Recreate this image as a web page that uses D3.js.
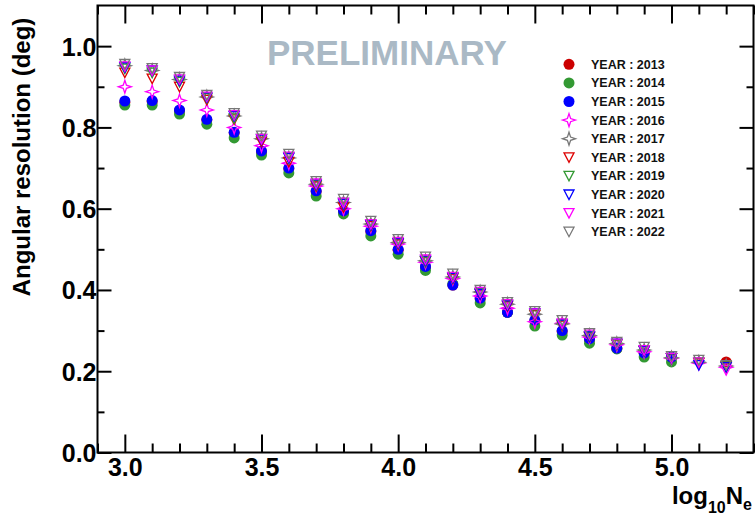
<!DOCTYPE html>
<html>
<head>
<meta charset="utf-8">
<script src="https://cdn.jsdelivr.net/npm/d3@7"></script>
<style>
  body { margin: 0; background: #fff; }
  svg { display: block; }
  text { font-family: "Liberation Sans", Arial, Helvetica, sans-serif; font-weight: bold; }
</style>
</head>
<body>
<div id="canvas"></div>
<script>
// log10(Ne) bins
const logNe = [3.0, 3.1, 3.2, 3.3, 3.4, 3.5, 3.6, 3.7, 3.8, 3.9, 4.0, 4.1, 4.2, 4.3, 4.4, 4.5, 4.6, 4.7, 4.8, 4.9, 5.0, 5.1, 5.2];

// angular resolution (deg) per year
const res2013 = [0.862, 0.864, 0.841, 0.818, 0.786, 0.740, 0.698, 0.642, 0.593, 0.544, 0.498, 0.456, 0.412, 0.378, 0.345, 0.324, 0.298, 0.278, 0.256, 0.244, 0.233, null, 0.223];
const res2014 = [0.855, 0.855, 0.833, 0.808, 0.774, 0.732, 0.688, 0.631, 0.587, 0.533, 0.488, 0.448, 0.415, 0.368, 0.345, 0.311, 0.289, 0.269, 0.255, 0.235, 0.223, null, null];
const res2015 = [0.865, 0.866, 0.843, 0.820, 0.788, 0.742, 0.700, 0.644, 0.595, 0.546, 0.500, 0.458, 0.412, 0.380, 0.345, 0.326, 0.300, 0.280, 0.257, 0.245, 0.235, null, null];
const res2016 = [0.900, 0.888, 0.866, 0.843, 0.800, 0.755, 0.712, 0.656, 0.600, 0.557, 0.513, 0.468, 0.428, 0.385, 0.355, 0.322, 0.318, 0.284, 0.265, 0.248, 0.232, 0.220, 0.210];
const res2017 = [0.952, 0.940, 0.918, 0.875, 0.828, 0.772, 0.725, 0.660, 0.615, 0.562, 0.517, 0.472, 0.432, 0.395, 0.365, 0.340, 0.316, 0.288, 0.268, 0.252, 0.233, 0.222, 0.213];
const res2018 = [0.935, 0.920, 0.900, 0.868, 0.820, 0.765, 0.715, 0.655, 0.603, 0.558, 0.512, 0.470, 0.428, 0.390, 0.360, 0.338, 0.312, 0.284, 0.266, 0.250, 0.232, 0.220, 0.212];
const res2019 = [0.945, 0.935, 0.912, 0.872, 0.822, 0.772, 0.726, 0.658, 0.614, 0.560, 0.515, 0.470, 0.430, 0.392, 0.363, 0.340, 0.314, 0.285, 0.266, 0.250, 0.232, 0.222, 0.212];
const res2020 = [0.948, 0.940, 0.915, 0.874, 0.828, 0.770, 0.725, 0.660, 0.612, 0.560, 0.515, 0.472, 0.430, 0.390, 0.362, 0.343, 0.315, 0.286, 0.268, 0.250, 0.232, 0.215, 0.210];
const res2021 = [0.950, 0.940, 0.918, 0.876, 0.830, 0.772, 0.728, 0.662, 0.615, 0.562, 0.518, 0.475, 0.432, 0.395, 0.365, 0.342, 0.318, 0.290, 0.268, 0.252, 0.233, 0.222, 0.203];
const res2022 = [0.956, 0.946, 0.924, 0.880, 0.835, 0.780, 0.735, 0.668, 0.624, 0.570, 0.525, 0.482, 0.440, 0.400, 0.370, 0.348, 0.326, 0.294, 0.272, 0.260, 0.237, 0.228, 0.215];

const years = ["2013", "2014", "2015", "2016", "2017", "2018", "2019", "2020", "2021", "2022"];
const values = [res2013, res2014, res2015, res2016, res2017, res2018, res2019, res2020, res2021, res2022];
const colors = ["#cc0000", "#339933", "#0000ff", "#ff00ff", "#777777", "#dd0000", "#339933", "#0000ff", "#ff00ff", "#777777"];
const shapes = ["circle", "circle", "circle", "star", "star", "tri", "tri", "tri", "tri", "tri"];

const xMajor = [3.0, 3.5, 4.0, 4.5, 5.0];
const yMajor = [0.0, 0.2, 0.4, 0.6, 0.8, 1.0];

const width = 756, height = 525;
const fLeft = 97.5, fRight = 753.5, fTop = 5.5, fBottom = 452.5;

const svg = d3.select("#canvas").append("svg")
    .attr("width", width)
    .attr("height", height);

const x = d3.scaleLinear().domain([2.9, 5.3]).range([fLeft, fRight]);
const y = d3.scaleLinear().domain([0, 1.1]).range([fBottom, fTop]);

const xMinor = d3.range(29, 54).map(d => d / 10).filter(d => !xMajor.some(m => Math.abs(m - d) < 1e-6));
const yMinor = d3.range(1, 11, 2).map(d => d / 10);

// ticks on all four sides, pointing inward
function ticks(axis, vals, size, tr, labels) {
    const g = svg.append("g")
        .attr("transform", tr)
        .call(axis.tickValues(vals).tickSize(-size).tickPadding(labels ? 4 : 0)
            .tickFormat(labels ? d3.format(".1f") : ""));
    g.select(".domain").remove();
    g.selectAll(".tick line").attr("stroke", "#000").attr("stroke-width", 2);
    return g;
}

const gx = ticks(d3.axisBottom(x), xMajor, 18, `translate(0,${fBottom})`, true);
ticks(d3.axisBottom(x), xMinor, 9, `translate(0,${fBottom})`, false);
ticks(d3.axisTop(x), xMajor, 18, `translate(0,${fTop})`, false);
ticks(d3.axisTop(x), xMinor, 9, `translate(0,${fTop})`, false);
const gy = ticks(d3.axisLeft(y), yMajor, 14, `translate(${fLeft},0)`, true);
ticks(d3.axisLeft(y), yMinor, 7, `translate(${fLeft},0)`, false);
ticks(d3.axisRight(y), yMajor, 14, `translate(${fRight},0)`, false);
ticks(d3.axisRight(y), yMinor, 7, `translate(${fRight},0)`, false);

gx.selectAll(".tick text")
    .attr("font-size", 25).attr("fill", "#000")
    .attr("font-family", "Liberation Sans, Arial, sans-serif").attr("font-weight", "bold")
    .attr("y", 6);
gy.selectAll(".tick text")
    .attr("font-size", 25).attr("fill", "#000")
    .attr("font-family", "Liberation Sans, Arial, sans-serif").attr("font-weight", "bold")
    .attr("x", -1).attr("dy", "0.36em");

// frame
svg.append("rect")
    .attr("x", fLeft).attr("y", fTop)
    .attr("width", fRight - fLeft).attr("height", fBottom - fTop)
    .attr("fill", "none").attr("stroke", "#000").attr("stroke-width", 2);

// titles
svg.append("text")
    .attr("transform", `translate(30,157) rotate(-90)`)
    .attr("text-anchor", "middle")
    .attr("font-size", 24)
    .text("Angular resolution (deg)");

const xt = svg.append("text")
    .attr("x", 752).attr("y", 504)
    .attr("text-anchor", "end")
    .attr("font-size", 24);
xt.append("tspan").text("log");
xt.append("tspan").attr("font-size", 16).attr("dy", 9).text("10");
xt.append("tspan").attr("dy", -9).text("N");
xt.append("tspan").attr("font-size", 16).attr("dy", 6).text("e");

svg.append("text")
    .attr("x", 267).attr("y", 65)
    .attr("font-size", 35)
    .attr("fill", "#aab9c5")
    .text("PRELIMINARY");

// markers
const starPath = "M0,-6.5L1.6,-1.6L6.5,0L1.6,1.6L0,6.5L-1.6,1.6L-6.5,0L-1.6,-1.6Z";
const triPath = "M-5,-4.5L5,-4.5L0,5Z";

function marker(sel, shape, color) {
    if (shape === "circle") {
        sel.append("circle").attr("r", 5.5).attr("fill", color);
    } else if (shape === "star") {
        sel.append("path").attr("d", starPath)
            .attr("fill", "none").attr("stroke", color).attr("stroke-width", 1.3);
    } else {
        sel.append("path").attr("d", triPath)
            .attr("fill", "none").attr("stroke", color).attr("stroke-width", 1.3);
    }
}

const plot = svg.append("g");
values.forEach((vals, i) => {
    const pts = logNe.map((v, j) => [v, vals[j]]).filter(p => p[1] !== null);
    plot.append("g").selectAll("g")
        .data(pts)
        .join("g")
        .attr("transform", d => `translate(${x(d[0])},${y(d[1])})`)
        .each(function () { marker(d3.select(this), shapes[i], colors[i]); });
});

// legend
const legY = d3.scaleLinear().domain([0, years.length - 1]).range([64.3, 231.7]);
const leg = svg.append("g");
years.forEach((yr, i) => {
    const row = leg.append("g").attr("transform", `translate(569,${legY(i)})`);
    marker(row, shapes[i], colors[i]);
    row.append("text")
        .attr("x", 22).attr("y", 4.5)
        .attr("font-size", 12.5)
        .attr("fill", "#111")
        .text("YEAR : " + yr);
});
</script>
</body>
</html>
